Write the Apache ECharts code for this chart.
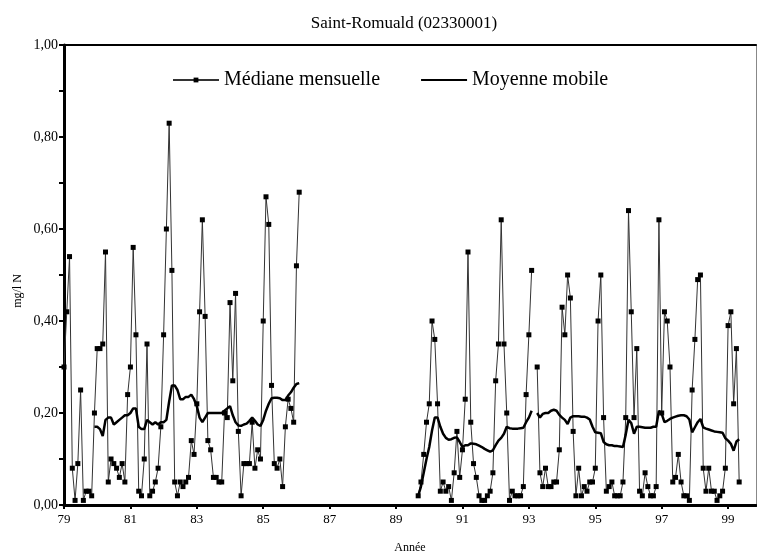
<!DOCTYPE html>
<html>
<head>
<meta charset="utf-8">
<script src="https://cdn.jsdelivr.net/npm/echarts@6/dist/echarts.min.js"></script>
<style>
  html, body { margin: 0; padding: 0; background: #fff; }
  #chart { width: 757px; height: 559px; }
</style>
</head>
<body>
<div id="chart"></div>
<script>
// Saint-Romuald (02330001) — nitrogen, monthly medians and moving average (mg/l N)
const baseYear = 79;               // month index 0 = January 1979
const yearTicks = [79, 81, 83, 85, 87, 89, 91, 93, 95, 97, 99];
const valueTicks = [0, 0.2, 0.4, 0.6, 0.8, 1.0];

// First sampling period: Jan 1979 – Feb 1986
const medianStartA = 0;
const medianA = [
  0.30, 0.42, 0.54, 0.08, 0.01, 0.09, 0.25, 0.01, 0.03, 0.03,
  0.02, 0.20, 0.34, 0.34, 0.35, 0.55, 0.05, 0.10, 0.09, 0.08,
  0.06, 0.09, 0.05, 0.24, 0.30, 0.56, 0.37, 0.03, 0.02, 0.10,
  0.35, 0.02, 0.03, 0.05, 0.08, 0.17, 0.37, 0.60, 0.83, 0.51,
  0.05, 0.02, 0.05, 0.04, 0.05, 0.06, 0.14, 0.11, 0.22, 0.42,
  0.62, 0.41, 0.14, 0.12, 0.06, 0.06, 0.05, 0.05, 0.20, 0.19,
  0.44, 0.27, 0.46, 0.16, 0.02, 0.09, 0.09, 0.09, 0.18, 0.08,
  0.12, 0.10, 0.40, 0.67, 0.61, 0.26, 0.09, 0.08, 0.10, 0.04,
  0.17, 0.23, 0.21, 0.18, 0.52, 0.68
];
const movingStartA = 11;
const movingA = [
  0.17, 0.17, 0.165, 0.15, 0.185, 0.19, 0.19, 0.175, 0.18, 0.185,
  0.19, 0.195, 0.195, 0.20, 0.21, 0.21, 0.17, 0.165, 0.165, 0.185,
  0.18, 0.175, 0.18, 0.175, 0.18, 0.18, 0.185, 0.225, 0.26, 0.26,
  0.25, 0.23, 0.23, 0.235, 0.235, 0.24, 0.23, 0.215, 0.19, 0.18,
  0.19, 0.20, 0.20, 0.20, 0.20, 0.20, 0.20, 0.205, 0.21, 0.215,
  0.195, 0.18, 0.173, 0.172, 0.175, 0.177, 0.183, 0.19, 0.183, 0.175,
  0.172, 0.185, 0.205, 0.22, 0.232, 0.233, 0.233, 0.232, 0.228, 0.228,
  0.238, 0.245, 0.255, 0.263, 0.265
];

// Second sampling period: Sep 1989 – May 1999 (one month missing in 1993)
const medianStartB = 128;
const medianB = [
  0.02, 0.05, 0.11, 0.18, 0.22, 0.40, 0.36, 0.22, 0.03, 0.05,
  0.03, 0.04, 0.01, 0.07, 0.16, 0.06, 0.12, 0.23, 0.55, 0.18,
  0.09, 0.06, 0.02, 0.01, 0.01, 0.02, 0.03, 0.07, 0.27, 0.35,
  0.62, 0.35, 0.20, 0.01, 0.03, 0.02, 0.02, 0.02, 0.04, 0.24,
  0.37, 0.51, null, 0.30, 0.07, 0.04, 0.08, 0.04, 0.04, 0.05,
  0.05, 0.12, 0.43, 0.37, 0.50, 0.45, 0.16, 0.02, 0.08, 0.02,
  0.04, 0.03, 0.05, 0.05, 0.08, 0.40, 0.50, 0.19, 0.03, 0.04,
  0.05, 0.02, 0.02, 0.02, 0.05, 0.19, 0.64, 0.42, 0.19, 0.34,
  0.03, 0.02, 0.07, 0.04, 0.02, 0.02, 0.04, 0.62, 0.20, 0.42,
  0.40, 0.30, 0.05, 0.06, 0.11, 0.05, 0.02, 0.02, 0.01, 0.25,
  0.36, 0.49, 0.50, 0.08, 0.03, 0.08, 0.03, 0.03, 0.01, 0.02,
  0.03, 0.08, 0.39, 0.42, 0.22, 0.34, 0.05
];
const movingStartB = 128;
const movingB = [
  0.02, 0.04, 0.07, 0.10, 0.126, 0.162, 0.19, 0.19, 0.17, 0.155,
  0.146, 0.142, 0.143, 0.146, 0.147, 0.137, 0.126, 0.13, 0.13, 0.134,
  0.133, 0.132, 0.129, 0.126, 0.122, 0.119, 0.116, 0.119, 0.13, 0.14,
  0.146, 0.155, 0.17, 0.167, 0.166, 0.166, 0.166, 0.167, 0.168, 0.18,
  0.19, 0.205, null, 0.20, 0.19, 0.198, 0.20, 0.20, 0.205, 0.207,
  0.205, 0.196, 0.19, 0.185, 0.176, 0.19, 0.193, 0.193, 0.193, 0.192,
  0.192, 0.19, 0.186, 0.17, 0.158, 0.157, 0.156, 0.137, 0.132, 0.13,
  0.13, 0.128, 0.128, 0.127, 0.126, 0.153, 0.185, 0.178, 0.155, 0.17,
  0.17, 0.169, 0.168, 0.168, 0.168, 0.17, 0.17, 0.205, 0.198, 0.18,
  0.183, 0.187, 0.19, 0.192, 0.194, 0.195, 0.195, 0.193, 0.186, 0.158,
  0.169, 0.18, 0.187, 0.169, 0.166, 0.164, 0.162, 0.16, 0.159, 0.158,
  0.157, 0.145, 0.14, 0.133, 0.118, 0.138, 0.143
];

// Turn a run of monthly values into [year, value] points; null breaks the line.
function toPoints(start, values) {
  return values.map((v, j) => [baseYear + (start + j) / 12, v === null ? '-' : v]);
}
function joinPeriods(a, b) {
  const gapX = (a[a.length - 1][0] + b[0][0]) / 2;
  return a.concat([[gapX, '-']], b);
}

const medianData = joinPeriods(toPoints(medianStartA, medianA), toPoints(medianStartB, medianB));
const movingData = joinPeriods(toPoints(movingStartA, movingA), toPoints(movingStartB, movingB));

const serif = 'Liberation Serif, Times New Roman, serif';
const xMin = 79, xMax = 99.84;

const chart = echarts.init(document.getElementById('chart'), null, { renderer: 'canvas' });
chart.setOption({
  animation: false,
  backgroundColor: '#fff',
  textStyle: { fontFamily: serif, color: '#000' },
  title: {
    text: 'Saint-Romuald (02330001)',
    left: 399,
    textAlign: 'center',
    top: 10,
    textStyle: { fontFamily: serif, fontSize: 17, fontWeight: 'normal', color: '#000' }
  },
  legend: {
    left: 167,
    top: 65,
    itemWidth: 46,
    itemHeight: 6,
    itemGap: 40,
    textStyle: { fontFamily: serif, fontSize: 20, color: '#000' },
    data: [
      { name: 'Médiane mensuelle' },
      { name: 'Moyenne mobile', itemStyle: { opacity: 0 } }
    ]
  },
  grid: { left: 64, right: 1, top: 45, bottom: 47, containLabel: false },
  xAxis: [{
    type: 'value',
    min: xMin, max: xMax,
    interval: 2,
    name: 'Année',
    nameLocation: 'middle',
    nameGap: 37,
    nameTextStyle: { fontFamily: serif, fontSize: 12, color: '#000' },
    axisLine: { show: true, onZero: false, lineStyle: { color: '#000', width: 3 } },
    axisTick: { show: true, length: 4, customValues: yearTicks, lineStyle: { color: '#000', width: 2 } },
    axisLabel: { customValues: yearTicks, margin: 8, fontFamily: serif, fontSize: 13, color: '#000',
      formatter: v => String(v) },
    splitLine: { show: false }
  }, {
    type: 'value',
    position: 'top',
    min: xMin, max: xMax,
    axisLine: { show: true, onZero: false, lineStyle: { color: '#000', width: 2 } },
    axisTick: { show: false },
    axisLabel: { show: false },
    splitLine: { show: false }
  }],
  yAxis: [{
    type: 'value',
    min: 0, max: 1, interval: 0.2,
    axisLine: { show: true, onZero: false, lineStyle: { color: '#000', width: 3 } },
    axisTick: { show: true, length: 5, customValues: valueTicks, lineStyle: { color: '#000', width: 2 } },
    minorTick: { show: true, splitNumber: 2, length: 5, lineStyle: { color: '#000', width: 2 } },
    axisLabel: { customValues: valueTicks, margin: 6, fontFamily: serif, fontSize: 14, color: '#000',
      formatter: v => v.toFixed(2).replace('.', ',') },
    splitLine: { show: false }
  }, {
    type: 'value',
    position: 'right',
    min: 0, max: 1,
    axisLine: { show: true, onZero: false, lineStyle: { color: '#888', width: 1 } },
    axisTick: { show: false },
    axisLabel: { show: false },
    splitLine: { show: false }
  }],
  graphic: [{
    type: 'text',
    x: 18, y: 291,
    rotation: Math.PI / 2,
    style: { text: 'mg/l N', font: '12px ' + serif, fill: '#000', align: 'center', verticalAlign: 'middle' }
  }],
  series: [{
    name: 'Médiane mensuelle',
    type: 'line',
    data: medianData,
    connectNulls: false,
    symbol: 'rect',
    symbolSize: 5,
    showAllSymbol: true,
    itemStyle: { color: '#000' },
    lineStyle: { color: '#333', width: 1 },
    z: 2
  }, {
    name: 'Moyenne mobile',
    type: 'line',
    data: movingData,
    connectNulls: false,
    symbol: 'none',
    itemStyle: { color: '#000' },
    lineStyle: { color: '#000', width: 2.5 },
    z: 3
  }]
});
</script>
</body>
</html>
